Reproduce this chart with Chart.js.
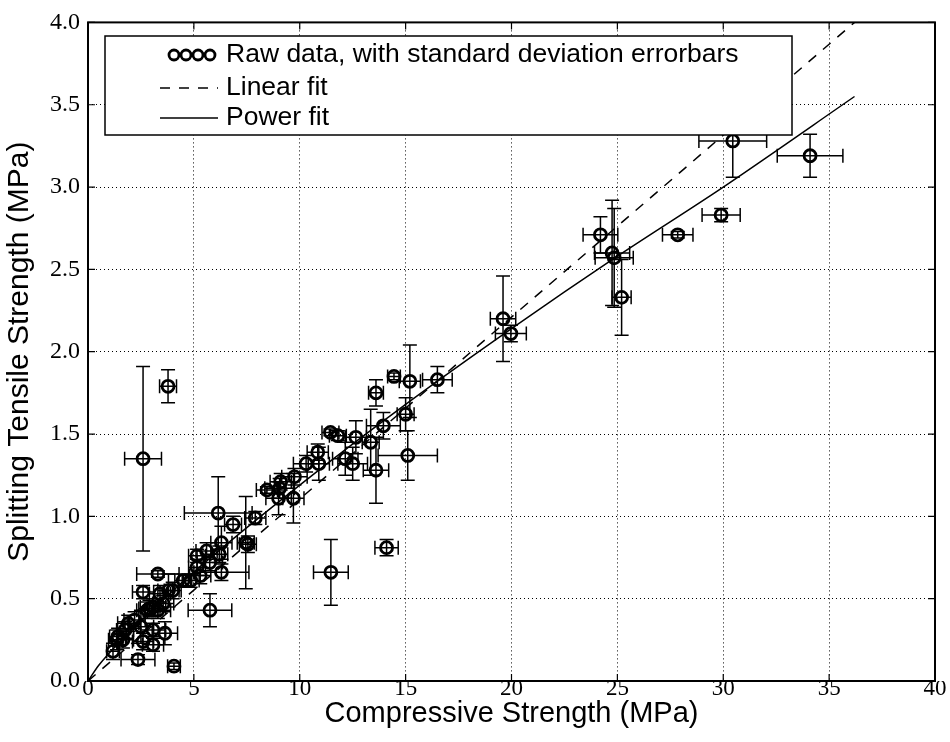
<!DOCTYPE html>
<html>
<head>
<meta charset="utf-8">
<script src="https://cdn.jsdelivr.net/npm/chart.js@4/dist/chart.umd.min.js"></script>
<style>
html, body { margin: 0; padding: 0; background: #fff; }
#wrap { width: 950px; height: 742px; }
</style>
</head>
<body>
<div id="wrap"><canvas id="grafico" width="950" height="742"></canvas></div>
<script>
// raw data (MPa)
const compStrength = [34.1, 30.45, 29.9, 27.85, 24.2, 24.75, 24.85, 25.2, 19.6, 19.97,
    16.5, 14.45, 15.2, 13.6, 15.0, 13.95, 15.1, 13.6, 13.35, 12.65,
    12.15, 12.5, 11.45, 11.8, 10.85, 10.3, 10.9, 9.75, 9.1, 8.45,
    9.05, 9.0, 9.7, 7.9, 6.15, 6.85, 7.45, 7.55, 6.3, 6.3,
    5.6, 5.15, 5.75, 6.2, 5.15, 5.3, 4.5, 4.85, 3.3, 3.8,
    2.6, 3.55, 3.07, 3.3, 2.8, 2.2, 1.9, 2.5, 1.75, 1.42,
    1.37, 1.65, 1.18, 3.07, 3.63, 2.6, 3.07, 2.36, 4.06, 2.6,
    3.78, 11.47, 14.1, 5.76, 3.4, 4.0, 2.9];
const tensileStrength = [3.19, 3.28, 2.83, 2.71, 2.71, 2.6, 2.57, 2.33, 2.2, 2.11,
    1.83, 1.85, 1.82, 1.75, 1.62, 1.55, 1.37, 1.28, 1.45, 1.48,
    1.35, 1.32, 1.51, 1.49, 1.39, 1.32, 1.32, 1.24, 1.21, 1.16,
    1.17, 1.11, 1.11, 0.99, 1.02, 0.95, 0.84, 0.83, 0.84, 0.66,
    0.79, 0.76, 0.72, 0.77, 0.69, 0.64, 0.61, 0.61, 0.65, 0.55,
    0.54, 0.47, 0.45, 0.43, 0.43, 0.37, 0.35, 0.33, 0.31, 0.27,
    0.25, 0.25, 0.18, 0.31, 0.29, 0.24, 0.22, 0.13, 0.09, 1.35,
    1.79, 0.66, 0.81, 0.43, 0.53, 0.55, 0.44];
// standard deviations
const compErr = [1.55, 1.6, 0.9, 0.72, 0.82, 0.83, 0.9, 0.45, 0.6, 0.73,
    0.7, 0.3, 0.5, 0.35, 0.4, 0.8, 1.4, 0.6, 0.4, 0.5,
    0.6, 0.7, 0.4, 0.4, 0.5, 0.6, 0.5, 0.6, 0.5, 0.5,
    0.7, 0.6, 0.5, 0.5, 1.6, 0.4, 0.4, 0.4, 0.5, 1.3,
    0.5, 0.4, 0.6, 0.4, 0.4, 0.5, 0.4, 0.4, 1.0, 0.5,
    0.5, 0.5, 0.6, 0.6, 0.5, 0.5, 0.5, 0.6, 0.4, 0.4,
    0.4, 0.5, 0.3, 0.6, 0.6, 0.5, 0.5, 0.8, 0.3, 0.87,
    0.4, 0.82, 0.55, 1.03, 0.5, 0.4, 0.5];
const tensileErr = [0.13, 0.22, 0.04, 0.02, 0.11, 0.32, 0.3, 0.23, 0.26, 0.05,
    0.08, 0.02, 0.22, 0.08, 0.1, 0.08, 0.15, 0.2, 0.2, 0.1,
    0.1, 0.1, 0.02, 0.03, 0.05, 0.05, 0.1, 0.05, 0.05, 0.02,
    0.06, 0.1, 0.15, 0.04, 0.22, 0.05, 0.28, 0.05, 0.1, 0.05,
    0.05, 0.04, 0.05, 0.05, 0.05, 0.05, 0.04, 0.04, 0.02, 0.1,
    0.04, 0.05, 0.05, 0.05, 0.05, 0.05, 0.05, 0.1, 0.05, 0.05,
    0.06, 0.05, 0.05, 0.04, 0.07, 0.05, 0.04, 0.03, 0.02, 0.56,
    0.1, 0.2, 0.05, 0.1, 0.05, 0.05, 0.05];

// fits
const linearFitX = [0, 36.2];
const linearFitY = [0, 4.0];
const powerFitX = [0, 0.5, 1, 2, 5, 10, 15, 20, 25, 30, 36.2];
const powerFitY = [0, 0.094, 0.169, 0.304, 0.663, 1.19, 1.68, 2.14, 2.58, 3.0, 3.55];

const xTicks = [0, 5, 10, 15, 20, 25, 30, 35, 40];
const yTicks = [0, 0.5, 1.0, 1.5, 2.0, 2.5, 3.0, 3.5, 4.0];
const legendLabels = ['Raw data, with standard deviation errorbars', 'Linear fit', 'Power fit'];

const sansFont = "'Liberation Sans', Arial, sans-serif";
const serifFont = "'Liberation Serif', 'DejaVu Serif', serif";

// error bars drawn under the markers
const errorBars = {
    id: 'errorBars',
    beforeDatasetsDraw(chart) {
        const ctx = chart.ctx;
        const xs = chart.scales.x, ys = chart.scales.y;
        const cap = 7;
        ctx.save();
        ctx.strokeStyle = '#000';
        ctx.lineWidth = 1.5;
        compStrength.forEach((cx, i) => {
            const px = xs.getPixelForValue(cx), py = ys.getPixelForValue(tensileStrength[i]);
            const x0 = xs.getPixelForValue(cx - compErr[i]), x1 = xs.getPixelForValue(cx + compErr[i]);
            const y0 = ys.getPixelForValue(tensileStrength[i] - tensileErr[i]);
            const y1 = ys.getPixelForValue(tensileStrength[i] + tensileErr[i]);
            ctx.beginPath();
            ctx.moveTo(x0, py); ctx.lineTo(x1, py);
            ctx.moveTo(x0, py - cap); ctx.lineTo(x0, py + cap);
            ctx.moveTo(x1, py - cap); ctx.lineTo(x1, py + cap);
            ctx.moveTo(px, y0); ctx.lineTo(px, y1);
            ctx.moveTo(px - cap, y0); ctx.lineTo(px + cap, y0);
            ctx.moveTo(px - cap, y1); ctx.lineTo(px + cap, y1);
            ctx.stroke();
        });
        ctx.restore();
    }
};

// frame, inward ticks and the legend box
const frameAndLegend = {
    id: 'frameAndLegend',
    afterDraw(chart) {
        const ctx = chart.ctx;
        const a = chart.chartArea;
        const xs = chart.scales.x, ys = chart.scales.y;
        ctx.save();
        ctx.strokeStyle = '#000';
        ctx.lineWidth = 1.2;
        ctx.beginPath();
        xTicks.forEach(v => {
            const p = xs.getPixelForValue(v);
            ctx.moveTo(p, a.bottom); ctx.lineTo(p, a.bottom - 7);
            ctx.moveTo(p, a.top); ctx.lineTo(p, a.top + 7);
        });
        yTicks.forEach(v => {
            const p = ys.getPixelForValue(v);
            ctx.moveTo(a.left, p); ctx.lineTo(a.left + 7, p);
            ctx.moveTo(a.right, p); ctx.lineTo(a.right - 7, p);
        });
        ctx.stroke();
        ctx.lineWidth = 2;
        ctx.strokeRect(a.left, a.top, a.right - a.left, a.bottom - a.top);

        // legend
        const bx = 105, by = 36, bw = 687, bh = 99;
        ctx.fillStyle = '#fff';
        ctx.fillRect(bx, by, bw, bh);
        ctx.lineWidth = 1.5;
        ctx.strokeRect(bx, by, bw, bh);

        const rows = [55, 88, 118];
        ctx.lineWidth = 2.8;
        [174, 186, 198, 210].forEach(cx => {
            ctx.beginPath();
            ctx.arc(cx, rows[0], 5, 0, Math.PI * 2);
            ctx.stroke();
        });
        ctx.lineWidth = 1.5;
        ctx.setLineDash([10, 9]);
        ctx.beginPath(); ctx.moveTo(160, rows[1]); ctx.lineTo(218, rows[1]); ctx.stroke();
        ctx.setLineDash([]);
        ctx.beginPath(); ctx.moveTo(160, rows[2]); ctx.lineTo(218, rows[2]); ctx.stroke();

        ctx.fillStyle = '#000';
        ctx.font = '26.5px ' + sansFont;
        ctx.textBaseline = 'middle';
        ctx.textAlign = 'left';
        legendLabels.forEach((t, i) => ctx.fillText(t, 226, rows[i]));
        ctx.restore();
    }
};

const points = compStrength.map((x, i) => ({ x: x, y: tensileStrength[i] }));

new Chart('grafico', {
    type: 'scatter',
    data: {
        datasets: [{
            label: legendLabels[0],
            data: points,
            pointStyle: 'circle',
            pointRadius: 6,
            borderWidth: 2.8,
            borderColor: '#000',
            backgroundColor: 'rgba(0,0,0,0)',
            order: 3
        }, {
            label: legendLabels[1],
            type: 'line',
            data: linearFitX.map((x, i) => ({ x: x, y: linearFitY[i] })),
            borderColor: '#000',
            borderWidth: 1.5,
            borderDash: [10, 9],
            pointRadius: 0,
            fill: false,
            order: 1
        }, {
            label: legendLabels[2],
            type: 'line',
            data: powerFitX.map((x, i) => ({ x: x, y: powerFitY[i] })),
            borderColor: '#000',
            borderWidth: 1.5,
            pointRadius: 0,
            tension: 0.3,
            fill: false,
            order: 2
        }]
    },
    options: {
        responsive: false,
        animation: false,
        clip: true,
        layout: { padding: { top: 21, right: 15, left: 0, bottom: 0 } },
        plugins: { legend: { display: false }, tooltip: { enabled: false } },
        scales: {
            x: {
                type: 'linear', min: 0, max: 40,
                afterFit: s => { s.height = 61; },
                afterBuildTicks: s => { s.ticks = xTicks.map(v => ({ value: v })); },
                ticks: { color: '#000', padding: -6, font: { family: serifFont, size: 23 },
                    callback: v => String(v) },
                grid: { color: '#000', lineWidth: 1, drawTicks: false },
                border: { display: false, dash: [1, 3] },
                title: { display: true, text: 'Compressive Strength (MPa)', color: '#000',
                    font: { family: sansFont, size: 29 }, padding: { top: 0, bottom: 11 } }
            },
            y: {
                type: 'linear', min: 0, max: 4,
                afterFit: s => { s.width = 88; },
                afterBuildTicks: s => { s.ticks = yTicks.map(v => ({ value: v })); },
                ticks: { color: '#000', padding: 8, font: { family: serifFont, size: 24 },
                    callback: v => v.toFixed(1) },
                grid: { color: '#000', lineWidth: 1, drawTicks: false },
                border: { display: false, dash: [1, 3] },
                title: { display: true, text: 'Splitting Tensile Strength (MPa)', color: '#000',
                    font: { family: sansFont, size: 30 }, padding: { top: 2, bottom: 0 } }
            }
        }
    },
    plugins: [errorBars, frameAndLegend]
});
</script>
</body>
</html>
